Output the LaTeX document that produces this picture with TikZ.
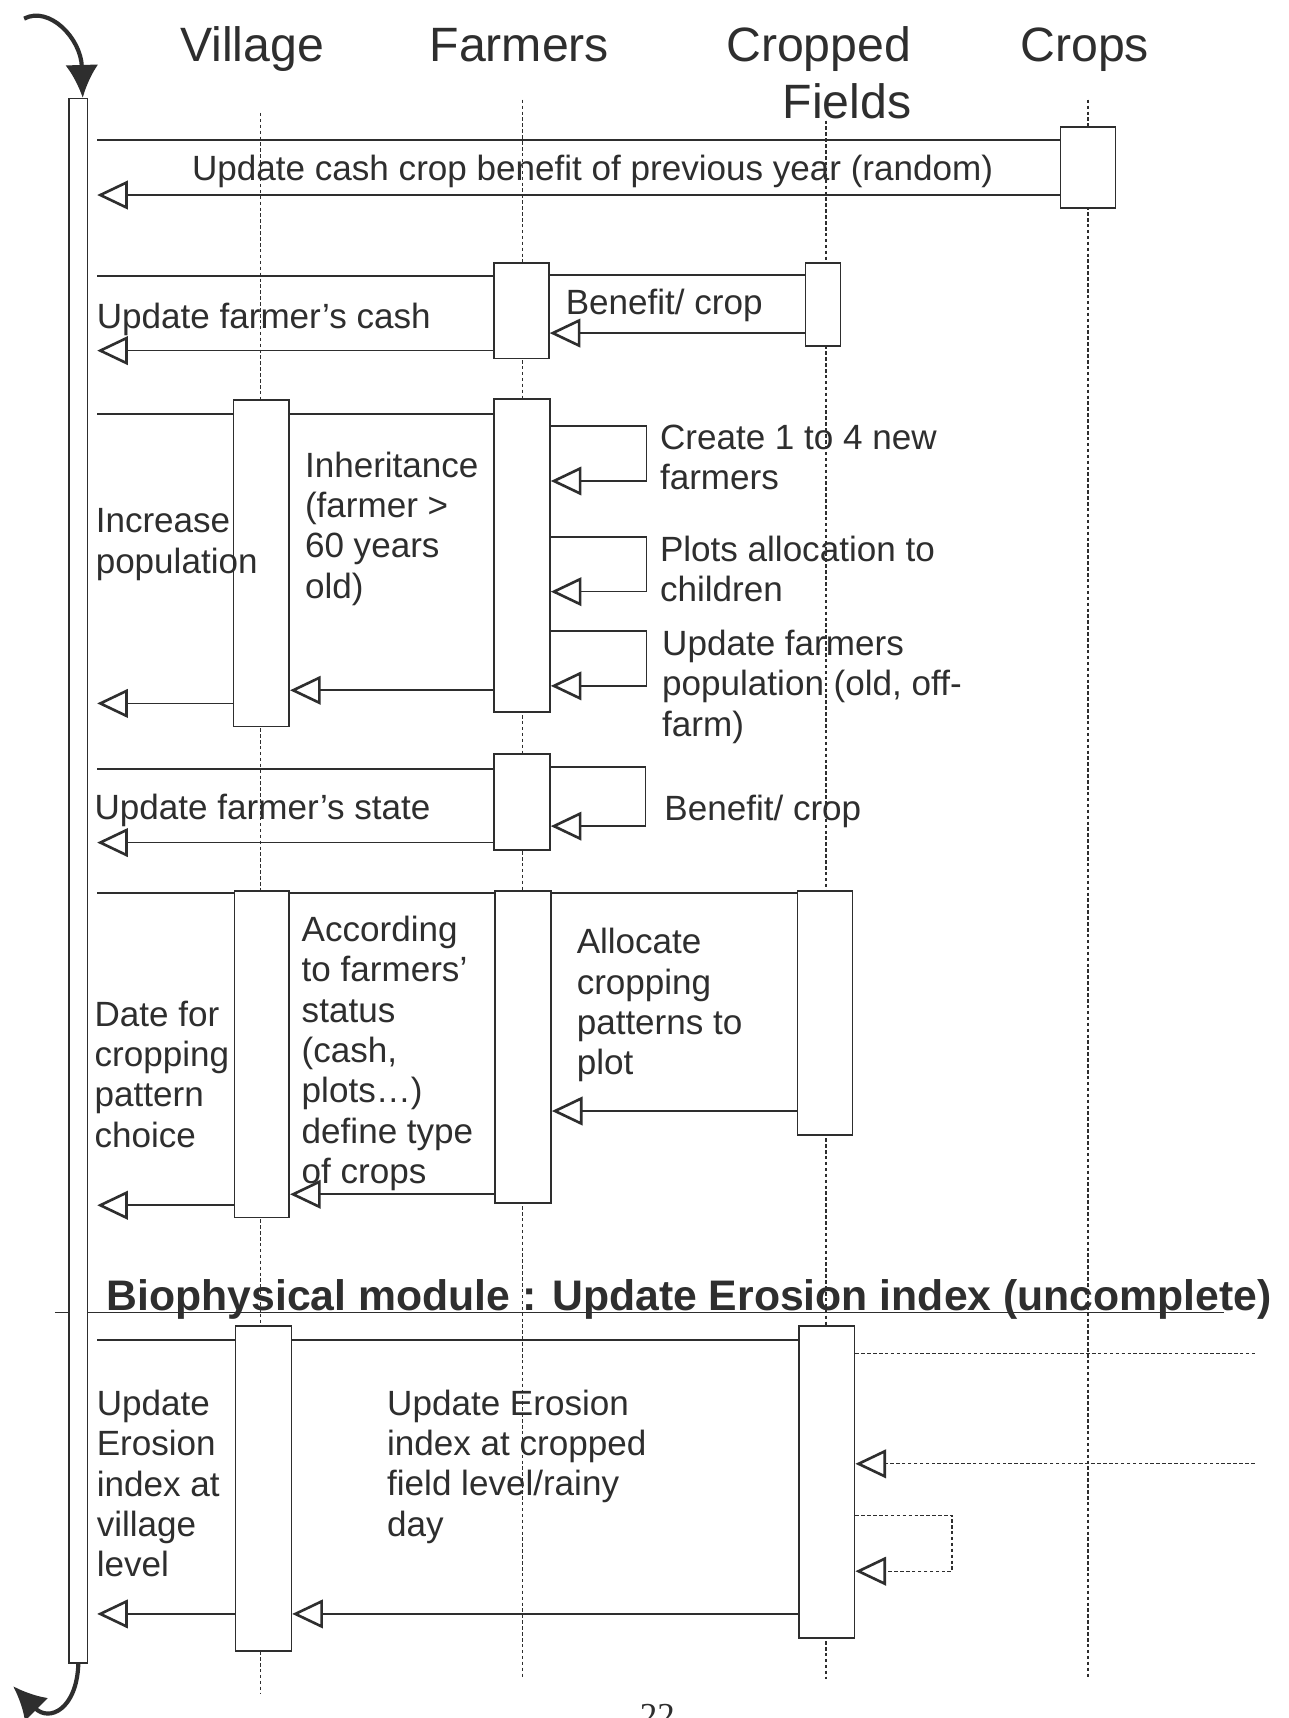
\documentclass[tikz,border=0pt]{standalone}
\usepackage{fontspec}
\setmainfont{Liberation Sans}
\newfontfamily\pagenum{Liberation Serif}
\usetikzlibrary{arrows.meta,fit,positioning}

\definecolor{ink}{HTML}{2E2E2E}

\tikzset{
  life/.style={draw=ink, line width=0.6pt, dash pattern=on 1.6pt off 1.1pt},
  act/.style={draw=ink, fill=white, line width=0.7pt, inner sep=0pt},
  msg/.style={draw=ink, line width=0.75pt},
  back/.style={msg, -{Triangle[open, length=14pt, width=13pt, line width=1.2pt]}},
  rainback/.style={life, -{Triangle[open, length=14pt, width=13pt, line width=1.2pt]}},
  % multi-line notes sit on the baseline of their last line
  note/.style={anchor=base west, inner sep=0pt, align=left, text=ink,
    font=\fontsize{16}{18.4}\selectfont},
  head/.style={anchor=base, inner sep=0pt, text=ink, font=\fontsize{22}{26}\selectfont},
  turn/.style={draw=ink, line width=1.9pt, -{Latex[length=15pt, width=15pt]}}
}

\begin{document}
\begin{tikzpicture}[x=0.5pt, y=-0.5pt]
\fill[white] (0,0) rectangle (1176,1568);
\useasboundingbox (0,0) rectangle (1176,1568);

% lifeline heads
\node[head] (village) at (230,56) {Village};
\node[head] (farmers) at (474,56) {Farmers};
\node[head, anchor=base east, align=right] (fields) at (832,108) {Cropped\\Fields};
\node[head] (crops) at (990,56) {Crops};

% dotted lifelines
\foreach \x/\a/\b in {238/103/1545, 477/91/1532, 754/110/1532, 993/91/1532}
  \draw[life] (\x,\a) -- (\x,\b);

% module underline
\draw[msg] (50,1198) -- (1117,1198);

% scheduler bar
\node[act, fit={(63,90) (80,1518)}] (sched) {};
\coordinate (main) at ([xshift=4pt]sched.east);

% yearly loop arrows
\draw[turn] (22,17) .. controls (45,5) and (74,35) .. ([xshift=2pt]sched.north);
\draw[turn] (sched.south) .. controls (70,1560) and (45,1572) .. (12,1539);

% Cash crop benefit
\node[act, fit={(968,116) (1018,190)}] (crops1) {};
\draw[msg] (main |- 0,128) -- (crops1.west |- 0,128);
\draw[back] (crops1.west |- 0,178) -- (main |- 0,178);
\node[note] (cashcrop) at (175,165) {Update cash crop benefit of previous year (random)};

% Farmer's cash
\node[act, fit={(451,240) (501,327)}] (farm2) {};
\node[act, fit={(735,240) (767,316)}] (field2) {};
\draw[msg] (main |- 0,252) -- (farm2.west |- 0,252);
\draw[msg] (farm2.east |- 0,251) -- (field2.west |- 0,251);
\draw[back] (field2.west |- 0,304) -- (farm2.east |- 0,304);
\draw[back] (farm2.west |- 0,320) -- (main |- 0,320);
\node[note] (cash) at (88,300) {Update farmer's cash};
\node[note] (benefit2) at (516,287) {Benefit/ crop};

% Population
\node[act, fit={(213,365) (264,663)}] (vill3) {};
\node[act, fit={(451,364) (502,650)}] (farm3) {};
\draw[msg] (main |- 0,378) -- (vill3.west |- 0,378);
\draw[msg] (vill3.east |- 0,378) -- (farm3.west |- 0,378);
\foreach \t/\b in {389/439, 490/540, 576/626}
  \draw[back] (farm3.east |- 0,\t) -- (590,\t) -- (590,\b) -- (farm3.east |- 0,\b);
\draw[back] (farm3.west |- 0,630) -- (vill3.east |- 0,630);
\draw[back] (vill3.west |- 0,642) -- (main |- 0,642);
\node[note] (popul) at (87,523) {Increase\\population};
\node[note] (inherit) at (278,546) {Inheritance\\(farmer >\\60 years\\old)};
\node[note] (newfarm) at (602,447) {Create 1 to 4 new\\farmers};
\node[note] (plots) at (602,549) {Plots allocation to\\children};
\node[note] (oldfarm) at (604,672) {Update farmers\\population (old, off-\\farm)};

% Farmer's state
\node[act, fit={(451,688) (502,776)}] (farm4) {};
\draw[msg] (main |- 0,702) -- (farm4.west |- 0,702);
\draw[back] (farm4.east |- 0,700) -- (589,700) -- (589,754) -- (farm4.east |- 0,754);
\draw[back] (farm4.west |- 0,769) -- (main |- 0,769);
\node[note] (state) at (86,748) {Update farmer's state};
\node[note] (benefit4) at (606,749) {Benefit/ crop};

% Cropping patterns
\node[act, fit={(214,813) (264,1111)}] (vill5) {};
\node[act, fit={(452,813) (503,1098)}] (farm5) {};
\node[act, fit={(728,813) (778,1036)}] (field5) {};
\draw[msg] (main |- 0,815) -- (vill5.west |- 0,815);
\draw[msg] (vill5.east |- 0,815) -- (farm5.west |- 0,815);
\draw[msg] (farm5.east |- 0,815) -- (field5.west |- 0,815);
\draw[back] (field5.west |- 0,1014) -- (farm5.east |- 0,1014);
\draw[back] (farm5.west |- 0,1090) -- (vill5.east |- 0,1090);
\draw[back] (vill5.west |- 0,1100) -- (main |- 0,1100);
\node[note] (date) at (86,1047) {Date for\\cropping\\pattern\\choice};
\node[note] (status) at (275,1080) {According\\to farmers'\\status\\(cash,\\plots…)\\define type\\of crops};
\node[note] (alloc) at (526,981) {Allocate\\cropping\\patterns to\\plot};

% Biophysical module
\node[note, font=\bfseries\fontsize{19.5}{22}\selectfont] (biohead) at (97,1196)
  {Biophysical module : Update Erosion index (uncomplete)};
\node[act, fit={(215,1210) (266,1507)}] (vill6) {};
\node[act, fit={(729,1210) (780,1495)}] (field6) {};
\coordinate (rainin) at (1145,1235);
\coordinate (rainout) at (1145,1336);
\draw[msg] (main |- 0,1223) -- (vill6.west |- 0,1223);
\draw[msg] (vill6.east |- 0,1223) -- (field6.west |- 0,1223);
\draw[life] (field6.east |- rainin) -- (rainin);
\draw[rainback] (rainout) -- (field6.east |- rainout);
\draw[rainback] (field6.east |- 0,1383) -- (869,1383) -- (869,1434) -- (field6.east |- 0,1434);
\draw[back] (field6.west |- 0,1473) -- (vill6.east |- 0,1473);
\draw[back] (vill6.west |- 0,1473) -- (main |- 0,1473);
\node[note] (erovill) at (88,1439) {Update\\Erosion\\index at\\village\\level};
\node[note] (erofield) at (353,1402) {Update Erosion\\index at cropped\\field level/rainy\\day};

% page number
\node[anchor=north, inner sep=0pt, text=ink, font=\pagenum\fontsize{16}{18}\selectfont] (page) at (600,1555) {22};
\end{tikzpicture}
\end{document}
